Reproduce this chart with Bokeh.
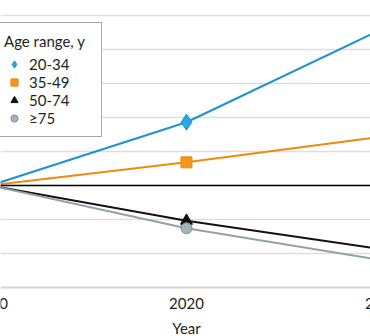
from bokeh.plotting import figure
from bokeh.models import Range1d, FixedTicker, Span, Legend, LegendItem, ColumnDataSource
from bokeh.core.properties import value
from bokeh.embed import file_html
from bokeh.resources import INLINE

# Data (percent change relative to 2010)
years = [2010, 2020, 2030]
age_groups = ["20-34", "35-49", "50-74", "\u226575"]
pct_20_34 = [0, 9.3, 23.0]
pct_35_49 = [0, 3.4, 7.2]
pct_50_74 = [0, -5.2, -9.4]
pct_75_up = [0, -6.3, -11.0]
y_ticks = [-15, -10, -5, 0, 5, 10, 15, 20, 25]
x_ticks = [2010, 2020, 2030]
x_tick_labels = ["2010", "2020", "2030"]
x_title = "Year"

FONT = "Lato"
TXT = "#231f20"

# the frame fills the whole canvas; the x axis is drawn inside it
Y_AXIS = -15          # bottom of the value scale
Y_TICKLAB = -17.29    # row of the year labels
Y_TITLE = -20.96      # row of the axis title

p = figure(width=370, height=336, output_backend="svg", toolbar_location=None,
           x_range=Range1d(2010.51, 2029.39), y_range=Range1d(-22.21, 27.2),
           min_border=0)
p.outline_line_color = None
p.background_fill_color = "white"
p.border_fill_color = "white"
p.axis.visible = False
p.xgrid.visible = False
p.ygrid.ticker = FixedTicker(ticks=y_ticks[1:])
p.ygrid.grid_line_color = "#dedede"
p.ygrid.grid_line_width = 1.5

# axis baseline and zero reference line
p.add_layout(Span(location=Y_AXIS, dimension="width", line_color="#d3d3d3", line_width=2))
p.add_layout(Span(location=0, dimension="width", line_color="black", line_width=1.5))

series = [
    (pct_20_34, "#1d93cf", "#27a9e1", "diamond", 16),
    (pct_35_49, "#ef8a0c", "#f3961b", "square", 11),
    (pct_50_74, "#111111", "#111111", "triangle", 12),
    (pct_75_up, "#8fa2aa", "#a4b4bb", "circle", 11),
]
items = []
for (vals, lc, fc, mk, sz), name in zip(series, age_groups):
    p.line(years, vals, line_color=lc, line_width=2)
    r = p.scatter(years, vals, marker=mk, size=sz, fill_color=fc,
                  line_color=lc if mk != "circle" else "#7f9098", line_width=1)
    items.append(LegendItem(label=name, renderers=[r]))

# x tick labels and title
tick_src = ColumnDataSource(dict(x=x_ticks, y=[Y_TICKLAB] * len(x_ticks), t=x_tick_labels))
p.text(x="x", y="y", text="t", source=tick_src, text_align="center",
       text_baseline="middle", text_font=value(FONT), text_font_size="15px",
       text_color=TXT)
p.text(x=[2020], y=[Y_TITLE], text=[x_title], text_align="center",
       text_baseline="middle", text_font=value(FONT), text_font_size="15px",
       text_color=TXT)

legend = Legend(items=items, location=(-6, 199), title="Age range, y",
                title_text_font=FONT, title_text_font_size="15px",
                title_text_font_style="normal", title_text_color=TXT,
                title_standoff=5,
                label_text_font=FONT, label_text_font_size="15px",
                label_text_color=TXT, glyph_width=20, glyph_height=18,
                label_height=18, label_width=63, label_standoff=5, spacing=0,
                padding=9, margin=0, border_line_color="#555555",
                border_line_width=1.2,
                background_fill_color="white", background_fill_alpha=1)
p.add_layout(legend)

open("out.html", "w").write(file_html(p, INLINE))
